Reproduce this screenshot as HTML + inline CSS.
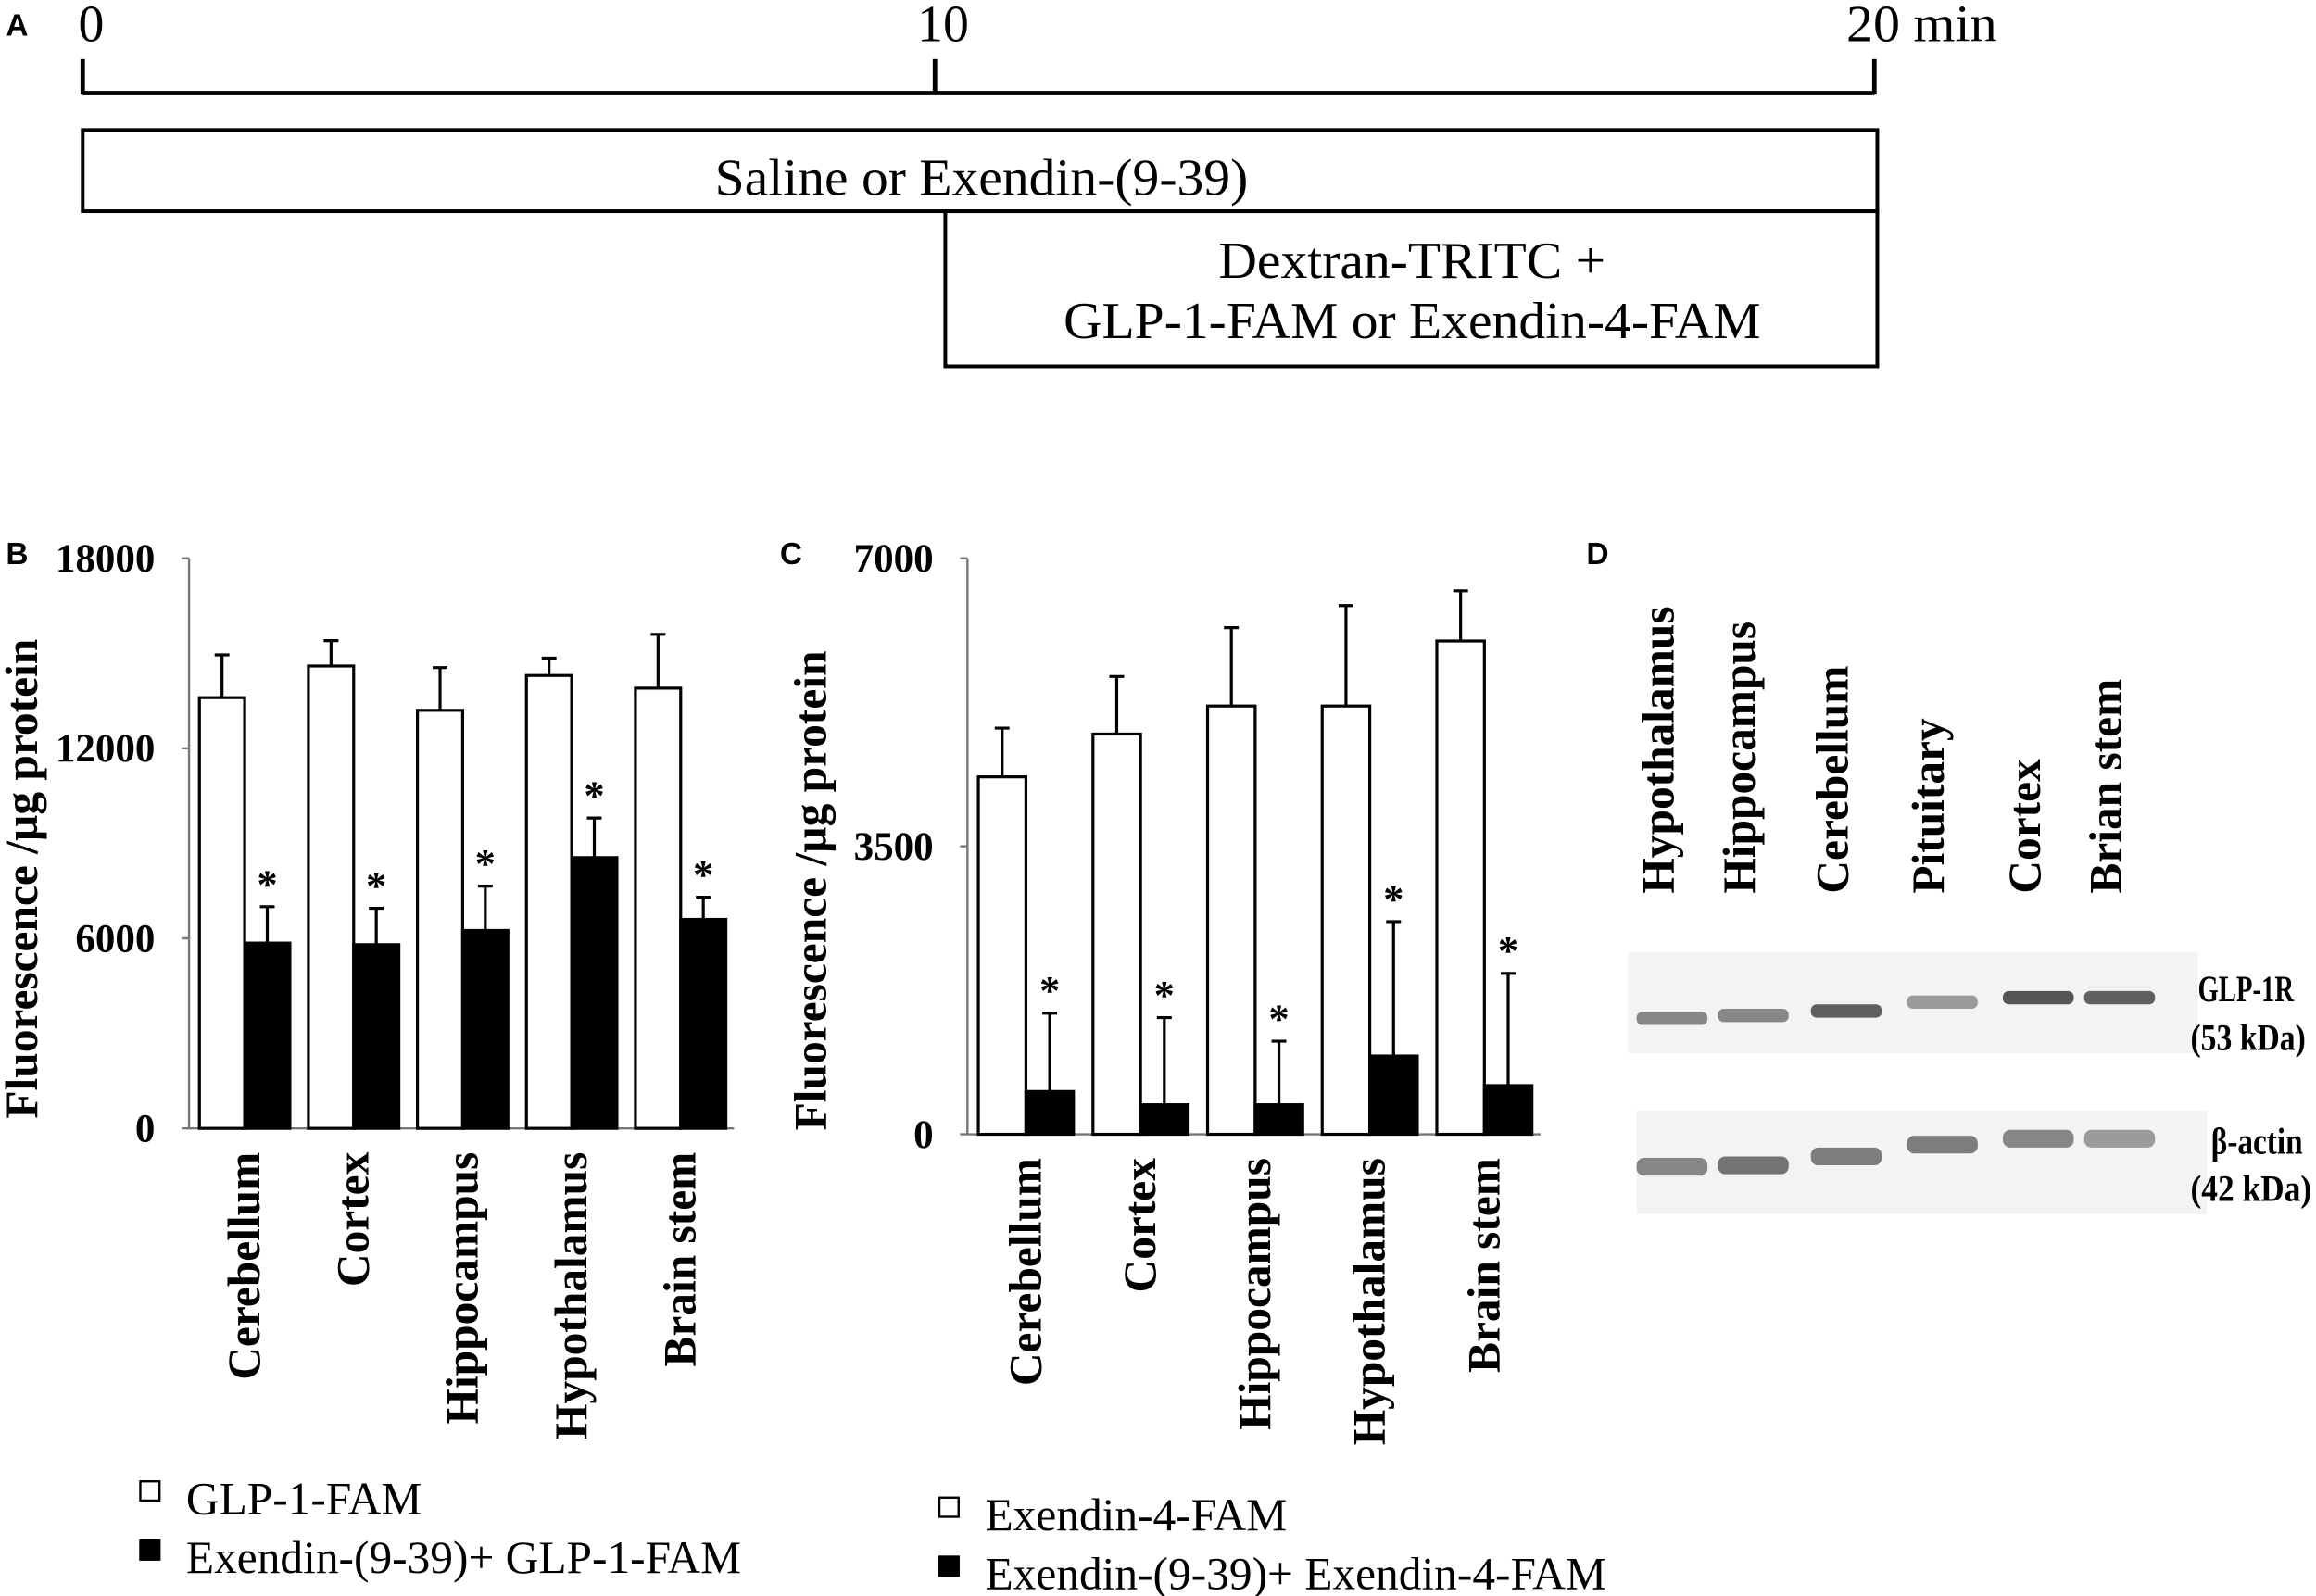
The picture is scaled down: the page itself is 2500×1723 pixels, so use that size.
<!DOCTYPE html>
<html><head><meta charset="utf-8"><style>
html,body{margin:0;padding:0;background:#fff;}
svg{display:block;}
text{font-family:"Liberation Serif",serif;fill:#000;}
.b{font-weight:bold;}
.s{font-family:"Liberation Sans",sans-serif;font-weight:bold;}
</style></head><body>
<svg id="fig" width="2500" height="1723" viewBox="0 0 1568 1080.6" xmlns="http://www.w3.org/2000/svg">
<g id="panelA">
<text class="s" x="4" y="24" font-size="21">A</text>
<line x1="56" y1="63" x2="1269" y2="63" stroke="#000" stroke-width="3"/>
<line x1="56" y1="40" x2="56" y2="64" stroke="#000" stroke-width="3"/>
<line x1="633" y1="40" x2="633" y2="64" stroke="#000" stroke-width="3"/>
<line x1="1269" y1="40" x2="1269" y2="64" stroke="#000" stroke-width="3"/>
<text x="53" y="28" font-size="35">0</text>
<text x="621" y="28" font-size="35">10</text>
<text x="1250" y="28" font-size="35" textLength="102" lengthAdjust="spacingAndGlyphs">20 min</text>
<rect x="56" y="88" width="1215" height="55" fill="none" stroke="#000" stroke-width="2.5"/>
<text x="484" y="132" font-size="35" textLength="361" lengthAdjust="spacingAndGlyphs">Saline or Exendin-(9-39)</text>
<rect x="640" y="143" width="631" height="105" fill="none" stroke="#000" stroke-width="2.5"/>
<text x="825" y="188" font-size="35" textLength="262" lengthAdjust="spacingAndGlyphs">Dextran-TRITC +</text>
<text x="720" y="229" font-size="35" textLength="472" lengthAdjust="spacingAndGlyphs">GLP-1-FAM or Exendin-4-FAM</text>
</g>
<g id="panelB"></g>
<g id="panelC"></g>
<g id="panelD">
<text class="s" x="1074" y="382" font-size="21">D</text>
<rect x="1102" y="645" width="386" height="68" fill="#f3f3f3"/>
<rect x="1108" y="752" width="386" height="70" fill="#f3f3f3"/>
<text class="b" x="1488" y="678" font-size="25" textLength="65" lengthAdjust="spacingAndGlyphs">GLP-1R</text>
<text class="b" x="1483" y="711" font-size="25" textLength="78" lengthAdjust="spacingAndGlyphs">(53 kDa)</text>
<text class="b" x="1497" y="781" font-size="25" textLength="62" lengthAdjust="spacingAndGlyphs">β-actin</text>
<text class="b" x="1483" y="813" font-size="25" textLength="82" lengthAdjust="spacingAndGlyphs">(42 kDa)</text>
</g>
</svg>
<script>
const NS='http://www.w3.org/2000/svg';
const catsB=['Cerebellum','Cortex','Hippocampus','Hypothalamus','Brain stem'];
const whiteB=[13600,14600,13200,14300,13900];
const whiteErrB=[14950,15400,14550,14850,15600];
const blackB=[5850,5800,6250,8550,6600];
const blackErrB=[7000,6950,7650,9800,7300];
const ticksB=[0,6000,12000,18000];
const catsC=['Cerebellum','Cortex','Hippocampus','Hypothalamus','Brain stem'];
const whiteC=[4344,4864,5205,5205,5995];
const whiteErrC=[4936,5564,6157,6426,6605];
const blackC=[520,359,359,951,592];
const blackErrC=[1472,1418,1131,2585,1956];
const ticksC=[0,3500,7000];
const lanesD=['Hypothalamus','Hippocampus','Cerebellum','Pituitary','Cortex','Brian stem'];
const glpIntensity=[0.6,0.6,0.8,0.5,0.85,0.8];
const actinIntensity=[0.6,0.7,0.65,0.65,0.6,0.5];

function mk(parent,tag,attrs){const e=document.createElementNS(NS,tag);for(const k in attrs)e.setAttribute(k,attrs[k]);parent.appendChild(e);return e;}

function chart(g,o){
  const y=v=>o.y0-(v/o.max)*(o.y0-o.yTop);
  const ax=mk(g,'line',{x1:o.x0,y1:o.yTop,x2:o.x0,y2:o.y0,stroke:'#777','stroke-width':1.5});
  
  
  const xa=mk(g,'line',{x1:o.x0,y1:o.y0,x2:o.xEnd,y2:o.y0,stroke:'#777','stroke-width':1.5});
  
  
  o.ticks.forEach(t=>{
    const tl=mk(g,'line',{x1:o.x0-5,y1:y(t),x2:o.x0,y2:y(t),stroke:'#777','stroke-width':1.5});
    
    
    const tx=mk(g,'text',{x:o.x0-23,y:y(t)+9,'font-size':27,'text-anchor':'end','class':'b'});
    tx.textContent=t;
    
    
  });
  const pitch=(o.xEnd-o.x0)/o.cats.length;
  const bw=pitch*0.415;
  o.cats.forEach((c,i)=>{
    const gx=o.x0+i*pitch+pitch*0.095;
    const series=[[o.w[i],o.we[i],'#fff','white-bar'],[o.b[i],o.be[i],'#000','black-bar']];
    series.forEach((s,j)=>{
      const bx=gx+j*bw;
      const r=mk(g,'rect',{x:bx,y:y(s[0]),width:bw,height:o.y0-y(s[0]),fill:s[2],stroke:'#000','stroke-width':2});
      
      
      const cx=bx+bw/2;
      const el=mk(g,'path',{d:`M${cx},${y(s[0])}V${y(s[1])}M${cx-5},${y(s[1])}H${cx+5}`,stroke:'#000','stroke-width':2,fill:'none'});
      
      
      if(j===1){
        const st=mk(g,'text',{x:cx,y:y(s[1])-6,'font-size':28,'text-anchor':'middle','class':'b'});
        st.textContent='*';
        
        
      }
    });
    const lx=gx+bw+10;
    const lt=mk(g,'text',{x:0,y:0,'font-size':31,'text-anchor':'end','class':'b',transform:`translate(${lx},${o.y0+16}) rotate(-90)`});
    lt.textContent=c;
    
    
  });
  const yt=mk(g,'text',{x:0,y:0,'font-size':31,'text-anchor':'middle','class':'b',transform:`translate(${o.titleX},${o.titleY}) rotate(-90)`});
  yt.textContent='Fluorescence /µg protein';
  
  
  const pl=mk(g,'text',{x:o.px,y:o.py,'font-size':21,'class':'s'});
  pl.textContent=o.letter;
  
  
  o.legend.forEach((t,k)=>{
    const ly=o.legY+k*40;
    const sq=mk(g,'rect',{x:o.legX,y:ly,width:13,height:13,fill:k?'#000':'#fff',stroke:'#000','stroke-width':1.5});
    
    
    const lt2=mk(g,'text',{x:o.legX+31,y:ly+22,'font-size':31});
    lt2.textContent=t;
    
    
  });
}
chart(document.getElementById('panelB'),{x0:128,xEnd:497,y0:764,yTop:378,max:18000,ticks:ticksB,cats:catsB,w:whiteB,we:whiteErrB,b:blackB,be:blackErrB,titleX:25,titleY:595,px:4,py:382,letter:'B',legX:95,legY:1003,legend:['GLP-1-FAM','Exendin-(9-39)+ GLP-1-FAM']});
chart(document.getElementById('panelC'),{x0:655,xEnd:1043,y0:768,yTop:378,max:7000,ticks:ticksC,cats:catsC,w:whiteC,we:whiteErrC,b:blackC,be:blackErrC,titleX:559,titleY:603,px:528,py:382,letter:'C',legX:636,legY:1014,legend:['Exendin-4-FAM','Exendin-(9-39)+ Exendin-4-FAM']});

const gD=document.getElementById('panelD');
const laneX=[1122,1177,1240,1305,1370,1425];
const glpY=[690,688,685,679,676,676];
const actY=[790,789,783,775,771,771];
lanesD.forEach((l,i)=>{
  const t=mk(gD,'text',{x:0,y:0,'font-size':31,'class':'b',transform:`translate(${laneX[i]+11},605) rotate(-90)`});
  t.textContent=l;
  
  
  const g1=Math.round(255-glpIntensity[i]*200);
  const b1=mk(gD,'rect',{x:laneX[i]-14,y:glpY[i]-5,width:48,height:9,rx:4,fill:`rgb(${g1},${g1},${g1})`});
  
  
  const g2=Math.round(255-actinIntensity[i]*200);
  const b2=mk(gD,'rect',{x:laneX[i]-14,y:actY[i]-6,width:48,height:12,rx:5,fill:`rgb(${g2},${g2},${g2})`});
  
  
});
</script>
</body></html>
